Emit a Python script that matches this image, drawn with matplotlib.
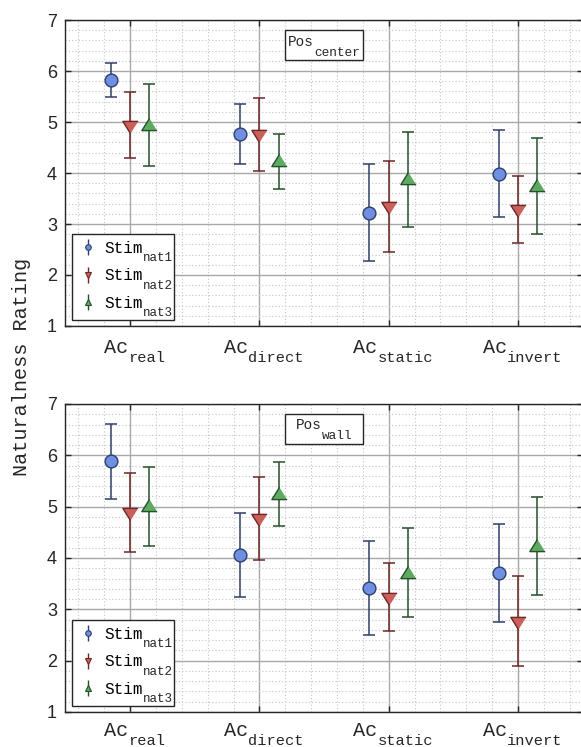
import numpy as np
import matplotlib
matplotlib.use("Agg")
import matplotlib.pyplot as plt
from matplotlib.patches import Rectangle
from matplotlib.ticker import MultipleLocator
from matplotlib.transforms import IdentityTransform

MONO = "Liberation Mono"

conditions = ["real", "direct", "static", "invert"]
stimuli = ["nat1", "nat2", "nat3"]
positions = ["center", "wall"]

# Pos_center: mean, lower end, upper end of each error bar
center_nat1 = [5.82, 4.76, 3.22, 3.99]
center_nat1_lo = [5.50, 4.17, 2.27, 3.13]
center_nat1_hi = [6.15, 5.35, 4.17, 4.84]
center_nat2 = [4.91, 4.73, 3.31, 3.25]
center_nat2_lo = [4.30, 4.04, 2.45, 2.63]
center_nat2_hi = [5.58, 5.48, 4.24, 3.94]
center_nat3 = [4.97, 4.26, 3.90, 3.77]
center_nat3_lo = [4.14, 3.69, 2.94, 2.81]
center_nat3_hi = [5.75, 4.76, 4.80, 4.69]

# Pos_wall
wall_nat1 = [5.89, 4.06, 3.42, 3.71]
wall_nat1_lo = [5.15, 3.24, 2.50, 2.75]
wall_nat1_hi = [6.61, 4.88, 4.33, 4.67]
wall_nat2 = [4.86, 4.74, 3.21, 2.74]
wall_nat2_lo = [4.12, 3.97, 2.57, 1.89]
wall_nat2_hi = [5.66, 5.57, 3.90, 3.65]
wall_nat3 = [5.03, 5.27, 3.73, 4.26]
wall_nat3_lo = [4.23, 4.62, 2.85, 3.28]
wall_nat3_hi = [5.78, 5.86, 4.58, 5.19]

panels = {
    "center": [(center_nat1, center_nat1_lo, center_nat1_hi),
               (center_nat2, center_nat2_lo, center_nat2_hi),
               (center_nat3, center_nat3_lo, center_nat3_hi)],
    "wall": [(wall_nat1, wall_nat1_lo, wall_nat1_hi),
             (wall_nat2, wall_nat2_lo, wall_nat2_hi),
             (wall_nat3, wall_nat3_lo, wall_nat3_hi)],
}

# styles
offsets = [-0.15, 0.0, 0.15]
tri_up = [(0, 0.8), (-1, -0.8), (1, -0.8)]
tri_dn = [(0, -0.8), (-1, 0.8), (1, 0.8)]
markers = ["o", tri_dn, tri_up]
leg_markers = ["o", "v", "^"]
msizes = [9.2, 11, 11]
faces = ["#6f8fe2", "#c9605a", "#5dab60"]
edges = ["#2e3f6b", "#6e2626", "#264f2c"]
DARK = "#262626"
LEG_SIZE, LEG_SUB = 11.5, 9.0


def sub_text(ax, x, y, trans, main, sub, size, subsize, dy_main, dy_sub, dx=0.0, z=8):
    # main text + lowered subscript, centred on (x, y); offsets in points
    w_main = 0.6 * size * len(main)
    w_sub = 0.6 * subsize * len(sub)
    left = -(w_main + w_sub) / 2 + dx
    kw = dict(xycoords=trans, textcoords="offset points", ha="left",
              va="baseline", family=MONO, color=DARK, zorder=z,
              annotation_clip=False)
    ax.annotate(main, (x, y), xytext=(left, -dy_main), fontsize=size, **kw)
    ax.annotate(sub, (x, y), xytext=(left + w_main, -dy_sub), fontsize=subsize, **kw)


fig = plt.figure(figsize=(5.81, 7.47), dpi=100)
rects = [[0.1126, 0.5636, 0.8902, 0.4096], [0.1126, 0.0469, 0.8902, 0.4123]]
label_drop = [(19.4, 25.7), (17.6, 23.6)]
box_y = [0.917, 0.919]

x = np.arange(1, len(conditions) + 1)
legends = []
for i, (rect, pos) in enumerate(zip(rects, positions)):
    ax = fig.add_axes(rect)
    for k, (mean, lo, hi) in enumerate(panels[pos]):
        mean = np.array(mean); lo = np.array(lo); hi = np.array(hi)
        ax.errorbar(x + offsets[k], mean, yerr=[mean - lo, hi - mean],
                    fmt="none", ecolor=edges[k], elinewidth=1.1,
                    capsize=4.6, capthick=1.1, zorder=3)
        ax.plot(x + offsets[k], mean, linestyle="none", marker=markers[k],
                ms=msizes[k], mfc=faces[k], mec=edges[k], mew=1.0, zorder=4)
        # legend proxy (subscript added after layout)
        ax.errorbar([], [], yerr=[], fmt=leg_markers[k],
                    ms=4, mfc=faces[k], mec=edges[k], mew=0.8,
                    ecolor=edges[k], elinewidth=1.0, capsize=2.5,
                    label="Stim")

    ax.set_xlim(0.5, 4.5)
    ax.set_ylim(1, 7)
    ax.set_xticks(x)
    ax.set_xticklabels([""] * len(conditions))
    ax.set_yticks(range(1, 8))
    ax.set_yticklabels([str(v) for v in range(1, 8)],
                       family="Liberation Sans", fontsize=13, color=DARK)
    ax.xaxis.set_minor_locator(MultipleLocator(0.2))
    ax.yaxis.set_minor_locator(MultipleLocator(0.2))
    ax.grid(which="major", color="#a8a8a8", lw=1.0, zorder=0)
    ax.grid(which="minor", color="#c4c4c4", lw=0.8, linestyle=(0, (1, 2)), zorder=0)
    ax.set_axisbelow(True)
    ax.tick_params(which="major", direction="in", length=4, width=1,
                   top=True, right=True, color=DARK)
    ax.tick_params(axis="y", pad=6)
    ax.tick_params(which="minor", length=0)
    for s in ax.spines.values():
        s.set_color(DARK)
        s.set_linewidth(1.0)

    # category labels Ac_<condition>
    for xi, c in zip(x, conditions):
        sub_text(ax, xi, 0, ax.get_xaxis_transform(), "Ac", c, 14.5, 11.1,
                 label_drop[i][0], label_drop[i][1], dx=3.2)

    # position box
    bw, bh = 78 / 517.6, 30 / (rect[3] * 747)
    ax.add_patch(Rectangle((0.5 - bw / 2 - 0.0005, box_y[i] - bh / 2), bw, bh,
                           transform=ax.transAxes, fc="white", ec=DARK, lw=1.0,
                           zorder=6))
    sub_text(ax, 0.5, box_y[i], ax.transAxes, "Pos", pos, 10.4, 9.2, 0.4, 7.4)

    leg = ax.legend(loc="lower left", prop={"family": MONO, "size": LEG_SIZE},
                    handlelength=0.9, handletextpad=0.6, labelspacing=0.78,
                    borderaxespad=0.45, borderpad=0.5, fancybox=False)
    leg.get_frame().set_visible(False)
    leg.set_zorder(7)
    legends.append((ax, leg))

fig.text(0.037, 0.509, "Naturalness Rating", rotation=90, ha="center", va="center",
         family=MONO, fontsize=14.5, color=DARK)

# legend subscripts and frame, placed after the legend is laid out
fig.canvas.draw()
W, H = fig.bbox.width, fig.bbox.height
px = fig.dpi / 72.0
for ax, leg in legends:
    bases = []
    for t, s in zip(leg.get_texts(), stimuli):
        x0, base = t.get_transform().transform(t.get_position())
        bases.append(base)
        xs = x0 + 4 * 0.6 * LEG_SIZE * px
        fig.text(xs / W, (base - 8.5) / H, s, family=MONO, fontsize=LEG_SUB,
                 ha="left", va="baseline", color=DARK, zorder=10)
    lx0 = ax.bbox.x0 + 7
    top = bases[0] + 19
    bottom = bases[-1] - 12
    ax.add_patch(Rectangle((lx0, bottom), 102, top - bottom,
                           transform=IdentityTransform(), fc="white", ec=DARK,
                           lw=1.0, zorder=6.5))

fig.savefig("out.png", dpi=100)
